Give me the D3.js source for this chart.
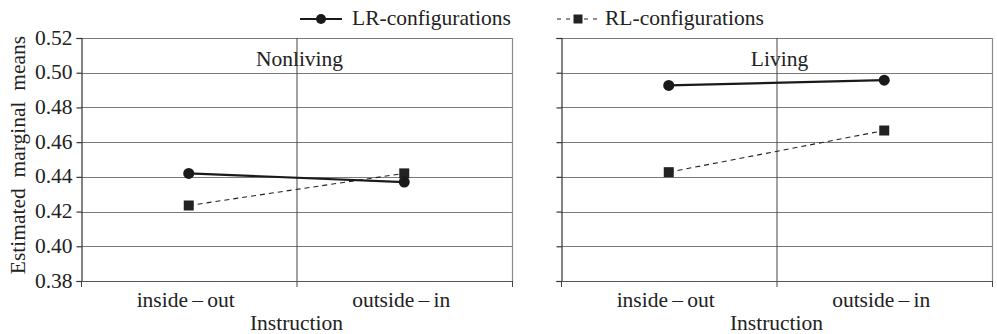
<!DOCTYPE html>
<html>
<head>
<meta charset="utf-8">
<script src="https://cdn.jsdelivr.net/npm/d3@7"></script>
<style>
  html, body { margin: 0; padding: 0; background: #fff; }
  svg { display: block; }
  svg text { font-family: "Liberation Serif", "Times New Roman", Times, "DejaVu Serif", serif; }
</style>
</head>
<body>
<svg id="chart" width="997" height="334"></svg>
<script>
// Estimated marginal means by instruction, split by object type
const categories = ["inside\u2009\u2013\u2009out", "outside\u2009\u2013\u2009in"];
const panels = ["Nonliving", "Living"];
const lrNonliving = [0.442, 0.437];
const rlNonliving = [0.4235, 0.442];
const lrLiving = [0.4927, 0.4957];
const rlLiving = [0.4427, 0.4667];
const yTicks = [0.38, 0.40, 0.42, 0.44, 0.46, 0.48, 0.50, 0.52];
const seriesNames = ["LR-configurations", "RL-configurations"];

const FONT = "'Liberation Serif', 'Times New Roman', Times, serif";
const FS = 21.5;
const svg = d3.select("#chart");
const W = 431, plotTop = 38, plotBottom = 281;
const panelLeft = [81, 561];

const y = d3.scaleLinear().domain([0.38, 0.52]).range([plotBottom, plotTop]);

const panelData = [
  { title: panels[0], lr: lrNonliving, rl: rlNonliving },
  { title: panels[1], lr: lrLiving, rl: rlLiving }
];

panelData.forEach((p, i) => {
  const g = svg.append("g").attr("transform", `translate(${panelLeft[i]},0)`);
  const x = d3.scalePoint().domain(categories).range([0, W]).padding(0.5);
  const xBand = d3.scaleBand().domain(categories).range([0, W]);

  // horizontal gridlines
  g.append("g").selectAll("line").data(yTicks.slice(1)).join("line")
    .attr("x1", 0).attr("x2", W)
    .attr("y1", d => Math.round(y(d)) + 0.5).attr("y2", d => Math.round(y(d)) + 0.5)
    .attr("stroke", "#7a7a7a").attr("stroke-width", 1.2);

  // right border
  g.append("line").attr("x1", W + 0.5).attr("x2", W + 0.5)
    .attr("y1", plotTop).attr("y2", plotBottom).attr("stroke", "#8a8a8a").attr("stroke-width", 1.2);

  // category divider
  g.append("line").attr("x1", xBand.bandwidth() + 0.5).attr("x2", xBand.bandwidth() + 0.5)
    .attr("y1", plotTop).attr("y2", plotBottom + 6).attr("stroke", "#444").attr("stroke-width", 1);

  // y axis
  const yAxis = d3.axisLeft(y).tickValues(yTicks).tickSize(5)
    .tickFormat(i === 0 ? d3.format(".2f") : () => "");
  const ya = g.append("g").attr("transform", "translate(0.5,0)").call(yAxis)
    .attr("font-family", FONT);
  ya.select(".domain").attr("stroke", "#333").attr("stroke-width", 1.2);
  ya.selectAll(".tick line").attr("stroke", "#333").attr("stroke-width", 1.2);
  ya.selectAll(".tick text").attr("font-size", FS).attr("fill", "#222")
    .attr("font-family", FONT).attr("x", -9).attr("dy", "0.28em");

  // x axis (baseline with boundary ticks)
  g.append("line").attr("x1", 0).attr("x2", W).attr("y1", plotBottom + 0.5).attr("y2", plotBottom + 0.5)
    .attr("stroke", "#555").attr("stroke-width", 1.2);
  g.append("g").selectAll("line").data([0, W]).join("line")
    .attr("x1", d => d + 0.5).attr("x2", d => d + 0.5)
    .attr("y1", plotBottom).attr("y2", plotBottom + 6).attr("stroke", "#444");

  g.append("g").selectAll("text").data(categories).join("text")
    .attr("x", d => x(d) - 3).attr("y", 307).attr("text-anchor", "middle")
    .attr("font-family", FONT).attr("font-size", FS).attr("fill", "#222").text(d => d);

  g.append("text").attr("x", W / 2).attr("y", 330).attr("text-anchor", "middle")
    .attr("font-family", FONT).attr("font-size", FS).attr("fill", "#222").text("Instruction");

  // panel title
  g.append("text").attr("x", W / 2 + 3).attr("y", 66).attr("text-anchor", "middle")
    .attr("font-family", FONT).attr("font-size", FS).attr("fill", "#222").text(p.title);

  const line = d3.line().x((d, k) => x(categories[k])).y(d => y(d));

  // RL series (dashed, squares)
  g.append("path").datum(p.rl).attr("d", line).attr("fill", "none")
    .attr("stroke", "#222").attr("stroke-width", 1.1).attr("stroke-dasharray", "5,4");
  g.append("g").selectAll("rect").data(p.rl).join("rect")
    .attr("x", (d, k) => x(categories[k]) - 5).attr("y", d => y(d) - 5)
    .attr("width", 10).attr("height", 10).attr("fill", "#222");

  // LR series (solid, circles)
  g.append("path").datum(p.lr).attr("d", line).attr("fill", "none")
    .attr("stroke", "#1a1a1a").attr("stroke-width", 2.2);
  g.append("g").selectAll("circle").data(p.lr).join("circle")
    .attr("cx", (d, k) => x(categories[k])).attr("cy", d => y(d))
    .attr("r", 5.5).attr("fill", "#1a1a1a");
});

// y axis title
svg.append("text")
  .attr("transform", `translate(25,155) rotate(-90)`)
  .attr("text-anchor", "middle").attr("font-family", FONT).attr("font-size", FS).attr("fill", "#222")
  .attr("xml:space", "preserve").style("white-space", "pre")
  .text("Estimated  marginal  means");

// legend
const legend = svg.append("g");
const ly = 19;
legend.append("line").attr("x1", 300).attr("x2", 342).attr("y1", ly).attr("y2", ly)
  .attr("stroke", "#1a1a1a").attr("stroke-width", 2.2);
legend.append("circle").attr("cx", 321).attr("cy", ly).attr("r", 5).attr("fill", "#1a1a1a");
legend.append("text").attr("x", 352).attr("y", 25).attr("font-family", FONT).attr("font-size", FS)
  .attr("fill", "#222").text(seriesNames[0]);

legend.append("line").attr("x1", 557).attr("x2", 598).attr("y1", ly).attr("y2", ly)
  .attr("stroke", "#222").attr("stroke-width", 1.1).attr("stroke-dasharray", "4,5");
legend.append("rect").attr("x", 573.5).attr("y", ly - 4.5).attr("width", 9).attr("height", 9).attr("fill", "#222");
legend.append("text").attr("x", 605).attr("y", 25).attr("font-family", FONT).attr("font-size", FS)
  .attr("fill", "#222").text(seriesNames[1]);
</script>
</body>
</html>
